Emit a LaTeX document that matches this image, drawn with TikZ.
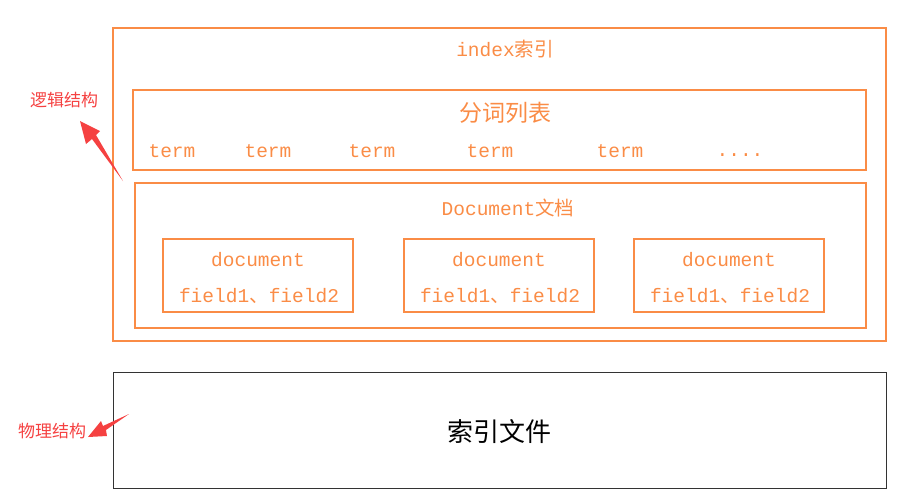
\documentclass[tikz,border=0pt]{standalone}
\usepackage{fontspec}
\setmonofont{Liberation Mono}
\newfontfamily\cjk{Noto Sans CJK SC}
\definecolor{og}{RGB}{250,140,70}
\definecolor{rd}{RGB}{245,65,65}
\tikzset{box/.style={draw=og,line width=1.2pt},
 mt/.style={text=og,font=\fontsize{19.5}{20}\selectfont\ttfamily,inner sep=0},
 ct/.style={text=og,font=\fontsize{23}{24}\selectfont\cjk,inner sep=0},
 lab/.style={text=rd,font=\fontsize{17}{18}\selectfont\cjk,inner sep=0}}
\begin{document}
\begin{tikzpicture}[x=1pt,y=-1pt]
\useasboundingbox (0,0) rectangle (902,499);
\draw[box] (113,28) rectangle (886,341);
\draw[box] (133,90) rectangle (866,170);
\draw[box] (135,183) rectangle (866,328);
\foreach \x/\n in {163/a,404/b,634/c}{
  \draw[box] (\x,239) rectangle ++(190,73);
  \node[mt] (d\n) at (\x+95,260) {document};
  \node[mt] (f\n) at (\x+96,296) {field1{\cjk 、}field2};
}
\node[mt] (idx) at (505,49) {index{\cjk 索引}};
\node[ct] (fc) at (505,113) {分词列表};
\foreach \x/\n in {172/1,268/2,372/3,490/4,620/5}{\node[mt] (t\n) at (\x,151) {term};}
\node[mt] (tdots) at (740,155) {....};
\node[mt] (doc) at (508,208) {Document{\cjk 文档}};
\draw[draw=black!80,line width=1pt] (113,372) rectangle (886,488);
\node[font=\fontsize{26}{27}\selectfont\cjk,inner sep=0] (file) at (499,432) {索引文件};
\node[lab] (lj) at (64,100) {逻辑结构};
\node[lab] (wl) at (52,431) {物理结构};
\coordinate (a1) at (123,181);
\coordinate (a2) at (80,121);
\fill[rd] (a2) -- (100,131) -- (96,135) -- (a1) -- (92,139) -- (86,144) -- cycle;
\coordinate (b1) at (129,414);
\coordinate (b2) at (88,437);
\fill[rd] (b2) -- (101,421) -- (103,426) -- (b1) -- (106,430) -- (107,436) -- cycle;
\end{tikzpicture}
\end{document}
